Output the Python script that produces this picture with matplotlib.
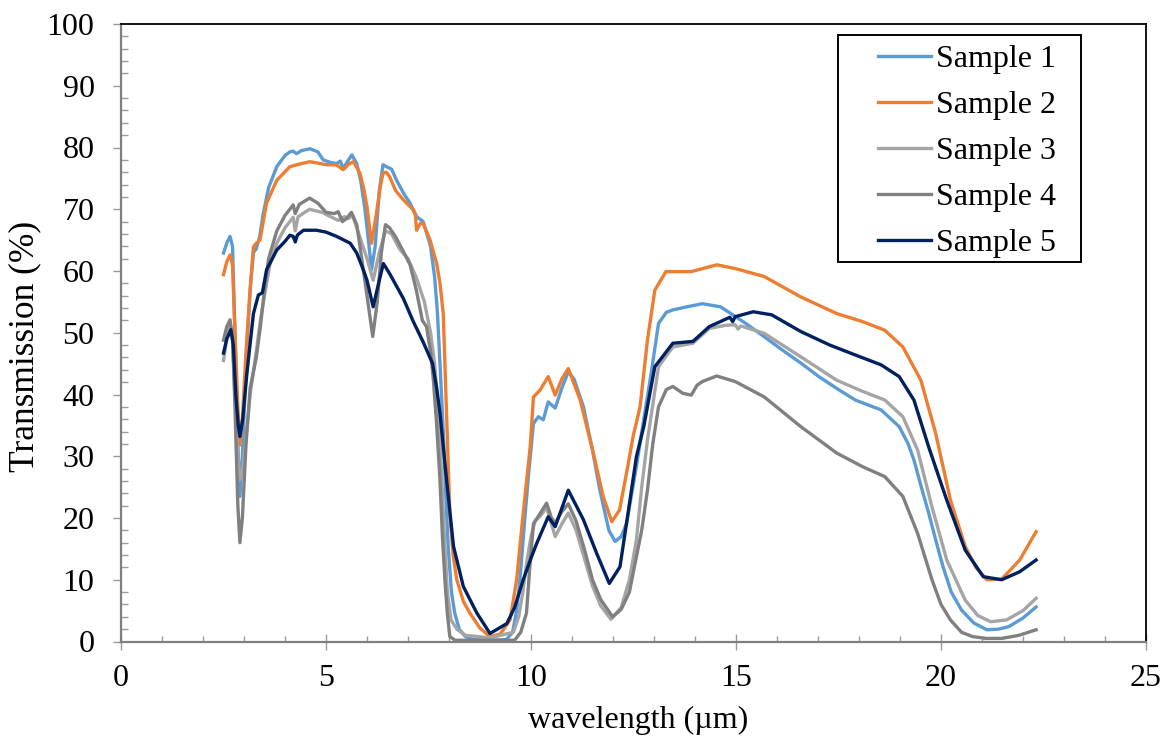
import matplotlib
matplotlib.use("Agg")
import matplotlib.pyplot as plt
from matplotlib.ticker import MultipleLocator
from matplotlib.patches import Rectangle

plt.rcParams["font.family"] = ["Liberation Serif", "DejaVu Serif"]

# values (wavelength in um, transmission in %)
wl_s1 = [2.5, 2.58, 2.66, 2.72, 2.78, 2.85, 2.9, 2.96, 3.05, 3.15, 3.23, 3.3, 3.38, 3.47, 3.6,
         3.8, 4.0, 4.12, 4.2, 4.28, 4.4, 4.61, 4.8, 4.93, 5.1, 5.26, 5.35, 5.42, 5.55, 5.63,
         5.75, 5.85, 5.95, 6.05, 6.11, 6.2, 6.3, 6.39, 6.5, 6.6, 6.72, 6.9, 7.05, 7.21, 7.37,
         7.55, 7.65, 7.72, 7.78, 7.86, 7.92, 7.98, 8.06, 8.14, 8.25, 8.4, 8.6, 9.0, 9.4, 9.55,
         9.65, 9.73, 9.85, 9.94, 10.06, 10.18, 10.3, 10.42, 10.59, 10.75, 10.91, 11.05, 11.28,
         11.5, 11.68, 11.9, 12.05, 12.2, 12.33, 12.57, 12.75, 12.93, 13.11, 13.3, 13.46, 13.8,
         14.18, 14.62, 14.9, 15.24, 15.7, 16.13, 16.6, 17.02, 17.5, 17.91, 18.54, 18.98, 19.2,
         19.34, 19.52, 19.7, 19.88, 20.05, 20.25, 20.5, 20.8, 21.12, 21.4, 21.65, 22.0, 22.32]
t_s1 = [62.9, 64.5, 65.6, 64.0, 50.0, 32.0, 23.5, 30.0, 45.0, 57.0, 63.0, 63.6, 65.5, 69.3, 73.5,
        76.9, 78.7, 79.3, 79.4, 79.0, 79.5, 79.8, 79.3, 78.0, 77.6, 77.4, 77.8, 76.6, 78.0, 78.8,
        77.4, 74.5, 70.0, 64.0, 60.2, 64.0, 73.0, 77.2, 76.8, 76.5, 74.7, 72.5, 71.0, 68.8, 68.0,
        64.0, 59.0, 53.0, 45.0, 34.0, 24.0, 15.4, 8.0, 4.6, 2.0, 0.8, 0.3, 0.2, 0.3, 1.5,
        5.0, 10.0, 20.0, 27.0, 35.3, 36.4, 35.9, 38.8, 37.8, 41.0, 43.7, 42.5, 38.0,
        31.0, 24.5, 18.0, 16.2, 17.0, 19.1, 28.3, 36.0, 43.4, 51.5, 53.3, 53.7, 54.2,
        54.7, 54.2, 53.0, 51.5, 49.3, 47.2, 45.0, 42.9, 40.8, 39.1, 37.5, 34.8, 32.0,
        29.4, 25.0, 20.8, 16.2, 12.1, 8.0, 5.1, 3.0, 1.9, 2.0, 2.4, 3.8, 5.6]

wl_s2 = [2.5, 2.58, 2.66, 2.72, 2.78, 2.85, 2.9, 2.96, 3.05, 3.15, 3.23, 3.3, 3.39, 3.47, 3.55,
         3.8, 4.12, 4.4, 4.61, 5.02, 5.25, 5.42, 5.55, 5.67, 5.83, 5.93, 6.0, 6.11, 6.23, 6.32,
         6.39, 6.47, 6.55, 6.7, 6.89, 7.13, 7.18, 7.21, 7.3, 7.37, 7.54, 7.7, 7.78, 7.86, 7.94,
         8.02, 8.1, 8.19, 8.35, 8.51, 8.75, 9.0, 9.25, 9.49, 9.65, 9.81, 9.98, 10.06, 10.22,
         10.42, 10.59, 10.75, 10.91, 11.2, 11.52, 11.76, 11.97, 12.16, 12.35, 12.49, 12.66,
         12.84, 13.02, 13.29, 13.91, 14.53, 14.98, 15.69, 16.58, 17.46, 18.09, 18.63, 19.07,
         19.51, 19.87, 20.23, 20.59, 20.85, 21.12, 21.48, 21.92, 22.32]
t_s2 = [59.4, 61.5, 62.6, 61.0, 50.0, 38.0, 31.8, 36.0, 47.0, 57.0, 63.9, 64.5, 65.0, 68.0, 71.0,
        74.7, 76.9, 77.4, 77.7, 77.2, 77.2, 76.4, 77.3, 77.7, 75.8, 73.0, 70.4, 64.5, 69.3, 73.5,
        75.8, 76.0, 75.3, 73.0, 71.5, 69.9, 69.0, 66.6, 67.7, 67.7, 65.0, 61.2, 58.0, 53.1, 37.0,
        20.8, 14.0, 10.0, 6.5, 4.6, 2.2, 0.8, 1.2, 3.5, 10.0, 20.8, 31.5, 39.6, 40.7,
        42.9, 39.9, 42.5, 44.2, 39.1, 30.5, 23.5, 19.4, 21.3, 28.0, 33.2, 38.0,
        48.8, 56.9, 59.9, 59.9, 61.0, 60.4, 59.1, 55.8, 53.1, 51.8, 50.4, 47.7,
        42.3, 33.7, 22.9, 15.4, 12.0, 10.0, 10.1, 13.2, 17.8]

wl_s3 = [2.5, 2.58, 2.66, 2.72, 2.78, 2.85, 2.9, 2.97, 3.05, 3.15, 3.3, 3.4, 3.5, 3.63, 3.8,
         4.0, 4.2, 4.25, 4.32, 4.6, 4.9, 5.2, 5.3, 5.45, 5.55, 5.65, 5.8, 6.0, 6.15, 6.3, 6.45,
         6.6, 6.8, 7.0, 7.2, 7.4, 7.55, 7.65, 7.72, 7.8, 7.88, 7.96, 8.05, 8.19, 8.4, 9.0, 9.57,
         9.7, 9.8, 9.9, 10.0, 10.1, 10.25, 10.38, 10.5, 10.59, 10.75, 10.91, 11.1, 11.3, 11.5,
         11.7, 11.95, 12.2, 12.4, 12.57, 12.7, 12.84, 13.11, 13.46, 13.95, 14.35, 14.75, 14.98,
         15.05, 15.12, 15.69, 16.58, 17.46, 18.09, 18.63, 19.07, 19.43, 19.78, 20.14, 20.59,
         20.9, 21.21, 21.6, 22.0, 22.32]
t_s3 = [45.5, 49.0, 51.5, 49.0, 40.0, 30.0, 26.2, 28.0, 33.0, 40.0, 47.0, 52.0, 56.0, 61.0, 64.5,
        67.0, 68.7, 66.5, 68.8, 70.0, 69.5, 68.5, 68.2, 68.8, 68.5, 69.0, 66.0, 62.0, 58.5, 63.0, 66.5,
        66.0, 63.5, 62.0, 59.0, 55.0, 50.0, 45.0, 39.0, 30.0, 18.0, 8.0, 3.5, 2.0, 1.0, 0.6, 1.5,
        4.0, 8.0, 13.0, 17.0, 19.5, 20.5, 21.8, 19.0, 17.0, 19.0, 20.8, 18.0, 13.5, 9.0,
        5.8, 3.6, 5.5, 10.0, 16.4, 25.0, 32.6, 44.5, 47.7, 48.3, 50.7, 51.2, 51.3,
        50.6, 51.1, 49.9, 46.1, 42.3, 40.5, 39.1, 36.4, 31.0, 21.8, 13.2, 6.7,
        4.2, 3.2, 3.5, 5.0, 7.0]

wl_s4 = [2.5, 2.58, 2.66, 2.72, 2.78, 2.85, 2.9, 2.96, 3.05, 3.15, 3.3, 3.4, 3.5, 3.6, 3.8,
         4.0, 4.2, 4.25, 4.35, 4.6, 4.8, 5.0, 5.2, 5.3, 5.4, 5.5, 5.62, 5.75, 5.85, 6.0, 6.14,
         6.25, 6.35, 6.45, 6.55, 6.7, 6.9, 7.05, 7.2, 7.35, 7.45, 7.55, 7.62, 7.7, 7.78, 7.84,
         7.9, 7.96, 8.02, 8.15, 9.6, 9.75, 9.89, 9.97, 10.06, 10.2, 10.38, 10.5, 10.59, 10.75,
         10.91, 11.1, 11.3, 11.5, 11.7, 11.99, 12.2, 12.4, 12.57, 12.7, 12.84, 12.97, 13.11,
         13.3, 13.46, 13.7, 13.91, 14.05, 14.18, 14.53, 14.98, 15.69, 16.58, 17.46, 18.09,
         18.63, 19.07, 19.43, 19.78, 20.0, 20.23, 20.5, 20.77, 21.1, 21.48, 21.9, 22.32]
t_s4 = [48.8, 51.0, 52.1, 49.0, 38.0, 22.0, 16.0, 20.0, 32.0, 41.0, 46.0, 51.0, 57.0, 62.0, 66.5,
        69.0, 70.7, 69.3, 70.8, 71.8, 71.0, 69.5, 69.3, 69.6, 68.0, 68.5, 69.5, 67.5, 63.0, 56.0, 49.4,
        55.0, 63.0, 67.5, 67.0, 65.5, 63.0, 61.0, 57.0, 52.0, 51.0, 47.0, 42.3, 35.0, 26.2, 17.0,
        10.0, 4.5, 0.8, 0.2, 0.2, 1.5, 4.6, 12.0, 19.1, 20.5, 22.4, 20.0, 19.2, 21.0,
        22.3, 19.5, 15.0, 10.0, 6.8, 4.0, 5.2, 8.0, 13.7, 18.0, 24.5, 32.0, 38.0,
        40.8, 41.3, 40.2, 39.9, 41.5, 42.1, 43.0, 42.1, 39.6, 34.8, 30.5, 28.3,
        26.7, 23.5, 17.5, 10.0, 6.0, 3.5, 1.5, 0.8, 0.5, 0.5, 1.0, 1.9]

wl_s5 = [2.5, 2.58, 2.68, 2.74, 2.8, 2.86, 2.9, 2.97, 3.07, 3.23, 3.35, 3.45, 3.55, 3.8, 4.0,
         4.12, 4.2, 4.25, 4.3, 4.45, 4.77, 5.0, 5.26, 5.59, 5.75, 5.91, 6.0, 6.15, 6.3, 6.4,
         6.55, 6.89, 7.13, 7.37, 7.6, 7.7, 7.78, 7.94, 8.11, 8.35, 8.68, 9.0, 9.41, 9.6, 9.81,
         10.0, 10.14, 10.42, 10.59, 10.91, 11.28, 11.6, 11.91, 12.17, 12.39, 12.57, 12.75,
         13.02, 13.46, 13.95, 14.35, 14.85, 14.92, 14.98, 15.42, 15.87, 16.58, 17.29, 17.91,
         18.54, 18.98, 19.34, 19.7, 20.14, 20.59, 21.03, 21.48, 21.92, 22.32]
t_s5 = [46.7, 49.0, 50.5, 48.0, 40.0, 35.0, 33.2, 36.0, 43.4, 53.1, 56.1, 56.5, 60.2, 63.4, 64.8,
        65.8, 65.6, 64.7, 65.8, 66.6, 66.6, 66.3, 65.6, 64.5, 62.9, 60.2, 58.5, 54.2, 58.5, 61.2,
        59.6, 55.5, 51.8, 48.5, 45.0, 41.0, 37.0, 26.2, 15.4, 8.9, 4.6, 1.3, 2.9, 5.5, 10.0,
        13.5, 15.9, 20.2, 18.6, 24.5, 19.7, 14.3, 9.4, 12.1, 21.8, 29.9, 34.8,
        44.5, 48.3, 48.6, 51.0, 52.5, 51.8, 52.6, 53.4, 52.9, 50.2, 48.0, 46.4,
        44.8, 42.9, 39.1, 31.5, 22.9, 14.8, 10.5, 10.0, 11.3, 13.2]

series = [
    ("Sample 1", wl_s1, t_s1, "#5B9BD5"),
    ("Sample 2", wl_s2, t_s2, "#ED7D31"),
    ("Sample 3", wl_s3, t_s3, "#A5A5A5"),
    ("Sample 4", wl_s4, t_s4, "#808080"),
    ("Sample 5", wl_s5, t_s5, "#002060"),
]

W, H = 1171, 744
fig = plt.figure(figsize=(W / 100, H / 100), dpi=100)
ax_left, ax_right, ax_top, ax_bottom = 121, 1146, 24, 641.5
ax = fig.add_axes([ax_left / W, 1 - ax_bottom / H, (ax_right - ax_left) / W, (ax_bottom - ax_top) / H])


def px_to_axes(px, py):
    return (px - ax_left) / (ax_right - ax_left), (ax_bottom - py) / (ax_bottom - ax_top)


for name, wl, t, col in series:
    ax.plot(wl, t, color=col, lw=2.4, label=name, solid_joinstyle="round")

ax.set_xlim(0, 25)
ax.set_ylim(0, 100)
ax.xaxis.set_major_locator(MultipleLocator(5))
ax.xaxis.set_minor_locator(MultipleLocator(1))
ax.yaxis.set_major_locator(MultipleLocator(10))
ax.yaxis.set_minor_locator(MultipleLocator(2))

ax.tick_params(axis="x", which="major", direction="inout", length=11, width=1, color="#9a9a9a",
               labelsize=23, pad=11)
ax.tick_params(axis="x", which="minor", direction="in", length=4, width=1, color="#9a9a9a")
ax.tick_params(axis="y", which="major", direction="out", length=6, width=1, color="#9a9a9a",
               labelsize=23, pad=13)
ax.tick_params(axis="y", which="minor", direction="in", length=5, width=1, color="#9a9a9a")

for side in ("left", "bottom"):
    ax.spines[side].set_color("#7f7f7f")
    ax.spines[side].set_linewidth(1.6)
for side in ("top", "right"):
    ax.spines[side].set_color("black")
    ax.spines[side].set_linewidth(1.3)

ax.set_xlabel("wavelength (\u00b5m)", fontsize=23)
ax.set_ylabel("Transmission (%)", fontsize=25.5)
ax.xaxis.set_label_coords(*px_to_axes(638, 720))
ax.yaxis.set_label_coords(*px_to_axes(25, 346))
ax.xaxis.label.set_va("center")
ax.yaxis.label.set_va("center")

# legend: box drawn separately so the padding matches the original
bx0, by0 = px_to_axes(838, 262)
bx1, by1 = px_to_axes(1081, 35)
ax.add_patch(Rectangle((bx0, by0), bx1 - bx0, by1 - by0, transform=ax.transAxes,
                       facecolor="white", edgecolor="black", lw=1.4, zorder=4))
lx, ly = px_to_axes(878, 45)
leg = ax.legend(loc="upper left", bbox_to_anchor=(lx, ly), borderaxespad=0, borderpad=0,
                fontsize=23, frameon=False, handlelength=1.65, handletextpad=0.15,
                labelspacing=0.52)
leg.set_zorder(5)

fig.savefig("out.png", dpi=100)
